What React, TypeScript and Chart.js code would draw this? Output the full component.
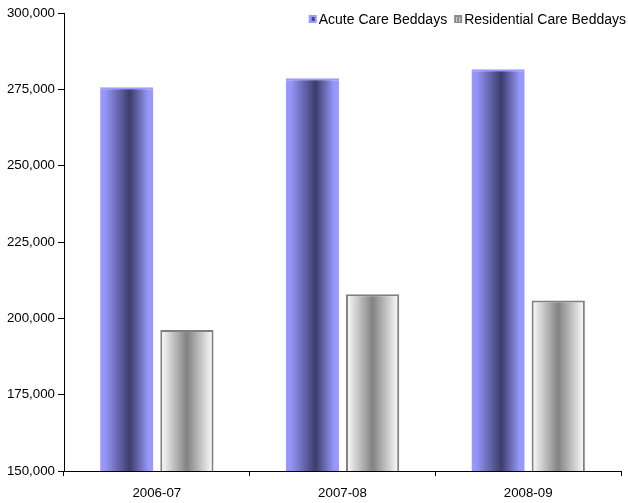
import React, { useEffect, useRef } from "react";
import { Chart, registerables } from "chart.js";

Chart.register(...registerables);

// Financial years shown along the category axis
const years = ["2006-07", "2007-08", "2008-09"];

// Beddays per year
const acuteCare = [275700, 278600, 281600];
const residentialCare = [196200, 207900, 205800];

const seriesNames = ["Acute Care Beddays", "Residential Care Beddays"];

// Value axis range and step
const yMin = 150000;
const yMax = 300000;
const yStep = 25000;

const FONT = '"Liberation Sans", Arial, Helvetica, sans-serif';

// Horizontal shading across each bar, giving a rounded, cylinder-like look
const shadeStops: [number, string][][] = [
  [
    [0, "#9999ff"],
    [0.1, "#9494f6"],
    [0.56, "#3c3c6c"],
    [0.9, "#9696fa"],
    [1, "#9999ff"],
  ],
  [
    [0, "#ffffff"],
    [0.5, "#828282"],
    [1, "#ffffff"],
  ],
];

const barShading = {
  id: "barShading",
  beforeDatasetsDraw(chart: any) {
    const ctx = chart.ctx as CanvasRenderingContext2D;
    chart.data.datasets.forEach((_: any, di: number) => {
      const meta = chart.getDatasetMeta(di);
      meta.data.forEach((el: any) => {
        const left = el.x - el.width / 2;
        const g = ctx.createLinearGradient(left, 0, left + el.width, 0);
        shadeStops[di].forEach(([o, c]) => g.addColorStop(o, c));
        el.options = { ...el.options, backgroundColor: g };
      });
    });
  },
};

// Compact legend in the top-right corner with small shaded swatches
const cornerLegend = {
  id: "cornerLegend",
  afterDraw(chart: any) {
    const ctx = chart.ctx as CanvasRenderingContext2D;
    ctx.save();
    ctx.font = `14px ${FONT}`;
    ctx.textBaseline = "middle";
    ctx.fillStyle = "#000";
    const box = 8;
    const boxGap = 2;
    const itemGap = 7;
    const widths = seriesNames.map((n) => ctx.measureText(n).width);
    const total =
      widths.reduce((a, w) => a + box + boxGap + w, 0) +
      itemGap * (seriesNames.length - 1);
    let x = 626 - total;
    const y = 19;
    seriesNames.forEach((name, i) => {
      const by = y - box / 2;
      if (i === 0) {
        ctx.fillStyle = "#9999ff";
        ctx.fillRect(x, by, box, box);
        ctx.fillStyle = "#4a4a80";
        ctx.fillRect(x + 3, by + 2, 3, 4);
      } else {
        ctx.fillStyle = "#8a8a8a";
        ctx.fillRect(x, by, box, box);
        ctx.fillStyle = "#d8d8d8";
        ctx.fillRect(x + 2, by + 2, 1, 5);
        ctx.fillRect(x + 5, by + 2, 1, 5);
      }
      ctx.fillStyle = "#000";
      ctx.fillText(name, x + box + boxGap, y + 1);
      x += box + boxGap + widths[i] + itemGap;
    });
    ctx.restore();
  },
};

export default function App() {
  const canvasRef = useRef<HTMLCanvasElement | null>(null);

  useEffect(() => {
    if (!canvasRef.current) return;
    const chart = new Chart(canvasRef.current, {
      type: "bar",
      data: {
        labels: years,
        datasets: [
          {
            label: seriesNames[0],
            data: acuteCare,
            backgroundColor: "#9999ff",
            borderColor: "#9c9cff",
            borderWidth: { top: 2, left: 0, right: 0, bottom: 0 },
            borderSkipped: "start",
          },
          {
            label: seriesNames[1],
            data: residentialCare,
            backgroundColor: "#cccccc",
            borderColor: "#7f7f7f",
            borderWidth: 2,
            borderSkipped: "start",
          },
        ],
      },
      options: {
        responsive: false,
        animation: false,
        devicePixelRatio: 1,
        layout: { padding: { top: 13, right: 7, left: 0, bottom: 0 } },
        datasets: {
          bar: { categoryPercentage: 0.648, barPercentage: 0.885 },
        },
        plugins: {
          legend: { display: false },
          tooltip: { enabled: false },
        },
        scales: {
          x: {
            grid: {
              display: true,
              drawOnChartArea: false,
              drawTicks: true,
              tickLength: 5,
              color: "#000",
              offset: true,
            },
            border: { display: true, color: "#000", width: 1 },
            ticks: {
              color: "#000",
              font: { family: FONT, size: 13.3 },
              padding: 9,
            },
            afterFit(scale: any) {
              scale.height = 32;
            },
          },
          y: {
            min: yMin,
            max: yMax,
            grid: {
              display: true,
              drawOnChartArea: false,
              drawTicks: true,
              tickLength: 6,
              color: "#000",
            },
            border: { display: true, color: "#000", width: 1 },
            ticks: {
              stepSize: yStep,
              color: "#000",
              font: { family: FONT, size: 13.3 },
              padding: 3,
              callback: (v: any) => Number(v).toLocaleString("en-US"),
            },
            afterFit(scale: any) {
              scale.width = 64;
            },
          },
        },
      },
      plugins: [barShading, cornerLegend],
    });
    return () => chart.destroy();
  }, []);

  return (
    <div style={{ position: "fixed", left: 0, top: 0, width: 628, height: 503, background: "#fff" }}>
      <canvas ref={canvasRef} width={628} height={503} style={{ display: "block" }} />
    </div>
  );
}
